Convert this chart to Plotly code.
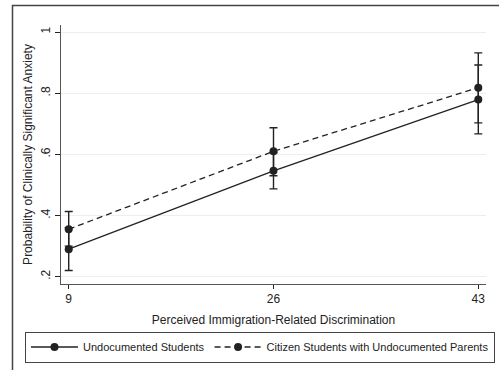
import plotly.graph_objects as go

x_vals = [9, 26, 43]
undoc = [0.290, 0.546, 0.779]
undoc_lo = [0.220, 0.487, 0.667]
undoc_hi = [0.360, 0.605, 0.892]
citizen = [0.355, 0.610, 0.818]
citizen_lo = [0.300, 0.530, 0.703]
citizen_hi = [0.413, 0.687, 0.932]
y_ticks = [0.2, 0.4, 0.6, 0.8, 1.0]
y_ticktext = [".2", ".4", ".6", ".8", "1"]
x_ticks = [9, 26, 43]

FONT = "Liberation Sans, Arial, sans-serif"
ink = "#222222"

def err(vals, lo, hi):
    return dict(type="data", symmetric=False,
                array=[h - v for h, v in zip(hi, vals)],
                arrayminus=[v - l for v, l in zip(vals, lo)],
                color=ink, thickness=1.4, width=4)

fig = go.Figure()
fig.add_trace(go.Scatter(
    x=x_vals, y=undoc, mode="lines+markers", name="Undocumented Students",
    line=dict(color=ink, width=1.3, dash="solid"),
    marker=dict(symbol="circle", size=8, color=ink),
    error_y=err(undoc, undoc_lo, undoc_hi)))
fig.add_trace(go.Scatter(
    x=x_vals, y=citizen, mode="lines+markers", name="Citizen Students with Undocumented Parents",
    line=dict(color=ink, width=1.3, dash="6px,4px"),
    marker=dict(symbol="circle", size=8, color=ink),
    error_y=err(citizen, citizen_lo, citizen_hi)))

L, R, T, B = 61, 13, 25, 86
W, H = 499, 370
pw, ph = W - L - R, H - T - B

fig.update_layout(
    width=W, height=H,
    margin=dict(l=L, r=R, t=T, b=B, pad=0, autoexpand=False),
    paper_bgcolor="white", plot_bgcolor="white",
    font=dict(family=FONT, size=12, color=ink),
    showlegend=True,
    legend=dict(orientation="h", x=(25 - L) / pw, xanchor="left",
                y=-(331.5 - (T + ph)) / ph, yanchor="top",
                bordercolor="#444444", borderwidth=1, bgcolor="white",
                font=dict(size=11, family=FONT, color=ink),
                itemwidth=47, tracegroupgap=0),
    xaxis=dict(range=[8.36, 43.64], tickvals=x_ticks, ticks="outside",
               ticklen=4, tickcolor=ink, showline=True, linecolor="#555555",
               linewidth=1, showgrid=False, zeroline=False,
               title=dict(text="Perceived Immigration-Related Discrimination",
                          font=dict(size=12), standoff=10),
               tickfont=dict(size=12)),
    yaxis=dict(range=[0.176, 1.023], tickvals=y_ticks, ticktext=y_ticktext,
               tickangle=-90, ticks="outside", ticklen=5, tickcolor=ink,
               showline=True, linecolor="#555555", linewidth=1,
               showgrid=True, gridcolor="#eeeeee", gridwidth=1, zeroline=False,
               title=dict(text="Probability of Clinically Significant Anxiety",
                          font=dict(size=12), standoff=4),
               tickfont=dict(size=12)),
)

# outer graph frame
fig.add_shape(type="rect", xref="paper", yref="paper",
              x0=(12.5 - L) / pw, x1=(W + 20 - L) / pw,
              y0=-(H + 20 - (T + ph)) / ph, y1=1 + (T - 5.5) / ph,
              line=dict(color="#444444", width=1.5), fillcolor="rgba(0,0,0,0)",
              layer="below")

fig.write_html("out.html", config={"displayModeBar": False},
               post_script="document.body.style.margin='0';document.body.style.overflow='hidden';")
